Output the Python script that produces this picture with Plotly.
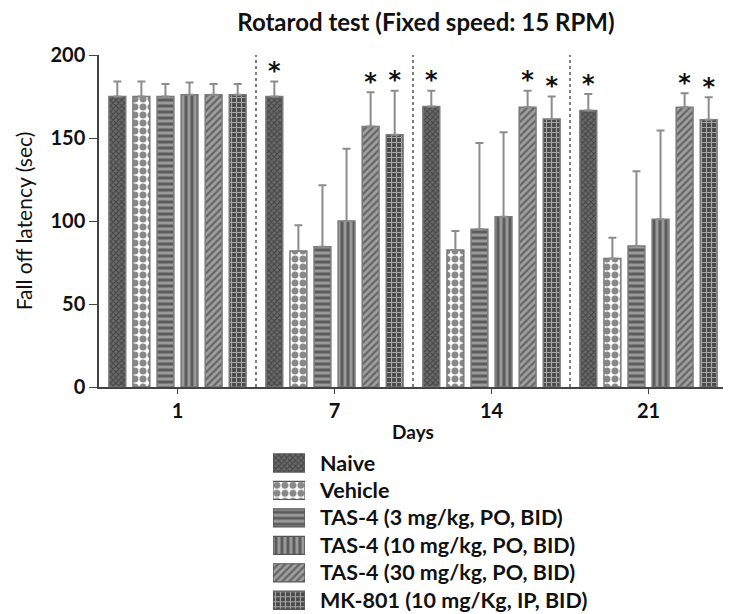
import plotly.graph_objects as go

days = ["1", "7", "14", "21"]
groups = ["Naive", "Vehicle", "TAS-4 (3 mg/kg, PO, BID)", "TAS-4 (10 mg/kg, PO, BID)",
          "TAS-4 (30 mg/kg, PO, BID)", "MK-801 (10 mg/Kg, IP, BID)"]

naive = [175, 175, 169, 166.5]
vehicle = [175, 82, 82.5, 77.5]
tas3 = [175, 84.5, 95, 85]
tas10 = [176, 100, 102.5, 101]
tas30 = [176, 157, 168.5, 168.5]
mk801 = [176, 152, 161.5, 161]

naive_err = [9, 9, 9.5, 10]
vehicle_err = [9, 15.5, 11.5, 12.5]
tas3_err = [7.5, 37, 52, 45]
tas10_err = [7.5, 43.5, 51, 53.5]
tas30_err = [6.5, 20.5, 10, 8.5]
mk801_err = [6.5, 26.5, 13.5, 13.5]

naive_sig = [0, 1, 1, 1]
vehicle_sig = [0, 0, 0, 0]
tas3_sig = [0, 0, 0, 0]
tas10_sig = [0, 0, 0, 0]
tas30_sig = [0, 1, 1, 1]
mk801_sig = [0, 1, 1, 1]

y_ticks = [0, 50, 100, 150, 200]

values = [naive, vehicle, tas3, tas10, tas30, mk801]
errors = [naive_err, vehicle_err, tas3_err, tas10_err, tas30_err, mk801_err]
sigs = [naive_sig, vehicle_sig, tas3_sig, tas10_sig, tas30_sig, mk801_sig]

patterns = [
    dict(shape="x", fgcolor="#1a1a1a", bgcolor="#6a6a6a", size=4, solidity=0.45),
    dict(shape=".", fgcolor="#111111", bgcolor="#ffffff", size=8, solidity=0.6),
    dict(shape="-", fgcolor="#1e1e1e", bgcolor="#9a9a9a", size=6, solidity=0.5),
    dict(shape="|", fgcolor="#1e1e1e", bgcolor="#9a9a9a", size=6, solidity=0.5),
    dict(shape="/", fgcolor="#2a2a2a", bgcolor="#a0a0a0", size=5, solidity=0.45),
    dict(shape="+", fgcolor="#ffffff", bgcolor="#4a4a4a", size=5, solidity=0.4),
]

FONT = "Lato"
fig = go.Figure()

for i, g in enumerate(groups):
    fig.add_trace(go.Bar(
        name=g, x=days, y=values[i], offsetgroup=str(i), showlegend=False,
        marker=dict(color="#9a9a9a", pattern=patterns[i],
                    line=dict(color="#7a7a7a", width=1.5)),
        error_y=dict(type="data", symmetric=False, array=errors[i],
                     arrayminus=[0] * len(days), color="#8c8c8c", thickness=2, width=4),
    ))

for i, g in enumerate(groups):
    xs = [d for d, s in zip(days, sigs[i]) if s]
    ys = [v + e + 5 for v, e, s in zip(values[i], errors[i], sigs[i]) if s]
    fig.add_trace(go.Scatter(
        x=xs, y=ys, mode="text", text=["<b>*</b>"] * len(xs), offsetgroup=str(i),
        textfont=dict(family="DejaVu Sans", size=24, color="#111111"),
        showlegend=False, hoverinfo="skip", cliponaxis=False,
    ))

# legend drawn as a small pattern-bar subplot
fig.add_trace(go.Bar(
    x=[1] * len(groups), y=groups, orientation="h", width=0.66,
    xaxis="x2", yaxis="y2", showlegend=False, hoverinfo="skip",
    marker=dict(
        color="#9a9a9a",
        pattern=dict(shape=[p["shape"] for p in patterns],
                     fgcolor=[p["fgcolor"] for p in patterns],
                     bgcolor=[p["bgcolor"] for p in patterns],
                     size=[p["size"] for p in patterns],
                     solidity=[p["solidity"] for p in patterns]),
        line=dict(color="#555555", width=1.2)),
))

for k in range(len(days) - 1):
    fig.add_shape(type="line", xref="x", yref="y", x0=k + 0.5, x1=k + 0.5, y0=0, y1=200,
                  line=dict(color="#555555", width=1.5, dash="dot"))

fig.update_layout(
    width=723, height=606,
    margin=dict(l=91, r=4, t=47, b=0, autoexpand=False),
    paper_bgcolor="white", plot_bgcolor="white",
    barmode="group", bargap=0.08, bargroupgap=0.3,
    scattermode="group", scattergap=0.08,
    title=dict(text="<b>Rotarod test (Fixed speed: 15 RPM)</b>", x=0.578, xanchor="center",
               y=0.9752, yanchor="middle",
               font=dict(family=FONT, size=24, color="#111111")),
    font=dict(family=FONT, color="#111111"),
    showlegend=False,
    xaxis=dict(type="category", range=[-0.5, 3.5], domain=[0, 1], anchor="y",
               showline=True, linecolor="#444444",
               linewidth=1.5, ticks="outside", ticklen=5, tickcolor="#444444",
               tickfont=dict(family=FONT, size=20, weight="bold"),
               title=dict(text="<b>Days</b>", font=dict(family=FONT, size=19), standoff=5),
               showgrid=False, zeroline=False),
    yaxis=dict(range=[0, 200], tickvals=y_ticks, domain=[0.406, 1], anchor="x",
               showline=True, linecolor="#444444", linewidth=1.5, ticks="outside", ticklen=8,
               tickcolor="#444444", tickfont=dict(family=FONT, size=20, weight="bold"),
               title=dict(text="Fall off latency (sec)",
                          font=dict(family=FONT, size=21, color="#111111"),
                          standoff=12),
               showgrid=False, zeroline=False),
    xaxis2=dict(domain=[0.277, 0.328], range=[0, 1], anchor="y2", visible=False,
                fixedrange=True),
    yaxis2=dict(domain=[0, 0.2947], anchor="x2", type="category", autorange="reversed",
                side="right", showline=False, showgrid=False, zeroline=False, ticks="",
                ticklabelstandoff=14,
                tickfont=dict(family=FONT, size=21.5, weight="bold", color="#111111"),
                fixedrange=True),
)

fig.write_html("out.html")
